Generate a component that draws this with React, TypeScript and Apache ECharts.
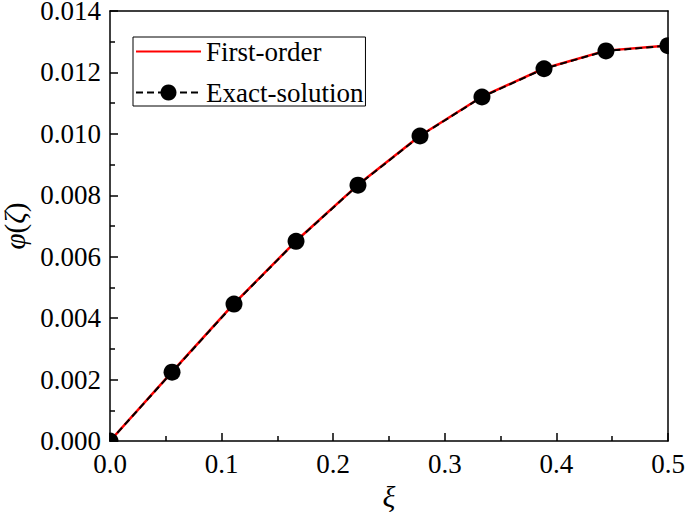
import React, { useEffect, useRef } from "react";
import * as echarts from "echarts";

const xi = [0, 0.0556, 0.1111, 0.1667, 0.2222, 0.2778, 0.3333, 0.3889, 0.4444, 0.5];
const firstOrder = [0, 0.00225, 0.00447, 0.00651, 0.00834, 0.00994, 0.01121, 0.01213, 0.01271, 0.01288];
const exactSolution = [0, 0.00224, 0.00446, 0.0065, 0.00833, 0.00993, 0.0112, 0.01212, 0.0127, 0.01287];
const seriesNames = ["First-order", "Exact-solution"];

const FONT = "Liberation Serif";

export default function App() {
  const ref = useRef<HTMLDivElement>(null);
  useEffect(() => {
    if (!ref.current) return;
    const chart = echarts.init(ref.current, undefined, { renderer: "svg" });
    const gl = 110, gr = 17, gt = 11, gb = 77;
    const W = 685, H = 518;
    const px = W - gr;
    const py = H - gb;
    chart.setOption({
      animation: false,
      backgroundColor: "#fff",
      textStyle: { fontFamily: FONT },
      grid: { left: gl, right: gr, top: gt, bottom: gb, containLabel: false, outerBoundsMode: "none" },
      legend: {
        left: 133,
        top: 37,
        orient: "vertical",
        itemWidth: 65,
        itemHeight: 20,
        itemGap: 14,
        padding: [1, 2, 0, 2],
        borderColor: "#000",
        borderWidth: 1,
        textStyle: { fontFamily: FONT, fontSize: 27, color: "#000" },
        data: [
          { name: seriesNames[0], itemStyle: { color: "rgba(0,0,0,0)", borderWidth: 0 } },
          { name: seriesNames[1] },
        ],
      },
      xAxis: [
        {
          type: "value",
          min: 0,
          max: 0.5,
          interval: 0.1,
          z: 10,
          name: "ξ",
          nameLocation: "middle",
          nameGap: 38,
          nameTextStyle: { fontFamily: FONT, fontSize: 30, fontStyle: "italic", color: "#000" },
          axisLine: { show: true, onZero: false, lineStyle: { color: "#000", width: 1.5 } },
          axisTick: { show: true, inside: true, length: 8, lineStyle: { color: "#000", width: 1.5 } },
          minorTick: { show: true, splitNumber: 2, length: 5, lineStyle: { color: "#000", width: 1.5 } },
          splitLine: { show: false },
          axisLabel: {
            fontFamily: FONT,
            fontSize: 27,
            color: "#000",
            margin: 9,
            formatter: (v: number) => v.toFixed(1),
          },
        },
        {
          type: "value",
          position: "top",
          min: 0,
          max: 0.5,
          z: 10,
          axisLine: { show: true, onZero: false, lineStyle: { color: "#000", width: 1.5 } },
          axisTick: { show: false },
          axisLabel: { show: false },
          splitLine: { show: false },
        },
      ],
      yAxis: [
        {
          type: "value",
          min: 0,
          max: 0.014,
          interval: 0.002,
          z: 10,
          name: "{i|φ}{n|(}{i|ζ}{n|)}",
          nameLocation: "middle",
          nameGap: 80,
          nameTextStyle: {
            fontFamily: FONT,
            fontSize: 29,
            color: "#000",
            rich: {
              i: { fontFamily: FONT, fontSize: 29, fontStyle: "italic", color: "#000" },
              n: { fontFamily: FONT, fontSize: 29, color: "#000" },
            },
          },
          axisLine: { show: true, onZero: false, lineStyle: { color: "#000", width: 1.5 } },
          axisTick: { show: true, inside: true, length: 8, lineStyle: { color: "#000", width: 1.5 } },
          minorTick: { show: true, splitNumber: 2, length: 5, lineStyle: { color: "#000", width: 1.5 } },
          splitLine: { show: false },
          axisLabel: {
            fontFamily: FONT,
            fontSize: 27,
            lineHeight: 22,
            color: "#000",
            margin: 9,
            formatter: (v: number) => v.toFixed(3),
          },
        },
        {
          type: "value",
          position: "right",
          min: 0,
          max: 0.014,
          z: 10,
          axisLine: { show: true, onZero: false, lineStyle: { color: "#000", width: 1.5 } },
          axisTick: { show: false },
          axisLabel: { show: false },
          splitLine: { show: false },
        },
      ],
      series: [
        {
          name: seriesNames[0],
          type: "line",
          z: 2,
          data: xi.map((x, i) => [x, firstOrder[i]]),
          symbol: "none",
          showSymbol: false,
          lineStyle: { color: "#ff0000", width: 2.5 },
          itemStyle: { color: "#ff0000" },
        },
        {
          name: seriesNames[1],
          type: "line",
          z: 3,
          data: xi.map((x, i) => [x, exactSolution[i]]),
          symbol: "circle",
          symbolSize: 17,
          lineStyle: { color: "#000", width: 2, type: [7, 4] },
          itemStyle: { color: "#000" },
        },
      ],
      graphic: [
        { type: "rect", z: 5, silent: true, shape: { x: gl - 12, y: py - 12, width: 11.3, height: 24 }, style: { fill: "#fff" } },
        { type: "rect", z: 5, silent: true, shape: { x: gl - 12, y: py + 0.8, width: 24, height: 10 }, style: { fill: "#fff" } },
        { type: "rect", z: 5, silent: true, shape: { x: px + 0.8, y: gt + 10, width: 14, height: 50 }, style: { fill: "#fff" } },
      ],
    });
    return () => chart.dispose();
  }, []);
  return (
    <div
      ref={ref}
      style={{ position: "fixed", left: 0, top: 0, width: 685, height: 518, background: "#fff" }}
    />
  );
}
